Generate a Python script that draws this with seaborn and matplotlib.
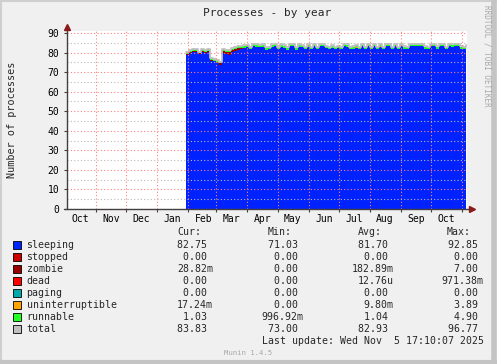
import numpy as np
import pandas as pd
import matplotlib
matplotlib.use('Agg')
import matplotlib.pyplot as plt
import matplotlib.dates as mdates
from matplotlib.lines import Line2D
from matplotlib.patches import Rectangle
import seaborn as sns

# 3-day averages, starting 2025-01-30
sleeping = [78.9, 79.5, 80.3, 80.3, 79.0, 80.3, 79.6, 80.3, 75.8, 75.5,
            74.6, 73.8, 79.8, 79.2, 78.8, 80.2, 80.8, 81.5, 82.0, 82.2,
            82.6, 81.6, 83.2, 83.0, 82.6, 83.0, 81.5, 81.8, 83.0, 83.1,
            81.7, 83.0, 82.4, 81.5, 83.1, 83.2, 81.4, 83.0, 82.6, 81.6,
            83.0, 81.8, 83.1, 81.7, 83.2, 83.1, 82.3, 81.9, 82.2, 81.8,
            82.4, 81.6, 83.2, 83.0, 81.7, 82.0, 82.5, 81.6, 83.2, 81.7,
            83.2, 81.8, 83.1, 81.6, 83.0, 81.9, 83.2, 83.1, 81.7, 83.2,
            81.8, 83.2, 81.9, 81.7, 83.2, 83.1, 83.3, 83.2, 83.1, 82.0,
            81.6, 83.2, 83.2, 81.9, 83.1, 83.2, 81.8, 83.2, 83.0, 83.1,
            83.2, 82.0, 81.6, 82.75]
zombie = [0.5, 0.7, 0.6, 0.7, 0.5, 0.6, 0.7, 0.6, 0.4, 0.3,
          0.5, 0.6, 1.0, 1.3, 1.4, 1.2, 1.0, 0.6, 0.4, 0.3,
          0.2, 0.1, 0.0, 0.0, 0.1, 0.0, 0.0, 0.0, 0.0, 0.0,
          0.0, 0.0, 0.0, 0.0, 0.0, 0.0, 0.0, 0.0, 0.0, 0.0,
          0.0, 0.0, 0.0, 0.0, 0.0, 0.0, 0.0, 0.0, 0.0, 0.0,
          0.0, 0.0, 0.0, 0.0, 0.0, 0.0, 0.0, 0.0, 0.0, 0.0,
          0.0, 0.0, 0.0, 0.0, 0.0, 0.0, 0.0, 0.0, 0.0, 0.0,
          0.0, 0.0, 0.0, 0.0, 0.0, 0.0, 0.0, 0.0, 0.0, 0.0,
          0.0, 0.0, 0.0, 0.0, 0.0, 0.0, 0.0, 0.0, 0.0, 0.0,
          0.0, 0.0, 0.0, 0.03]
uninterruptible = [0.0, 0.0, 0.0, 0.0, 0.0, 0.0, 0.0, 0.0, 0.0, 0.0,
                   0.0, 0.0, 0.0, 0.0, 0.0, 0.0, 0.0, 0.0, 0.0, 0.0,
                   0.0, 0.0, 0.0, 0.0, 0.0, 0.0, 0.0, 0.0, 0.0, 0.0,
                   0.0, 0.0, 0.0, 0.0, 0.0, 0.0, 0.0, 0.0, 0.0, 0.0,
                   0.0, 0.0, 0.0, 0.0, 0.0, 0.0, 0.0, 0.0, 0.3, 0.0,
                   0.0, 0.0, 0.0, 0.0, 0.0, 0.0, 0.2, 0.0, 0.0, 0.0,
                   0.0, 0.0, 0.0, 0.0, 0.3, 0.0, 0.0, 0.0, 0.0, 0.0,
                   0.0, 0.0, 0.0, 0.0, 0.0, 0.0, 0.0, 0.0, 0.0, 0.0,
                   0.0, 0.0, 0.0, 0.0, 0.0, 0.0, 0.0, 0.0, 0.0, 0.0,
                   0.0, 0.0, 0.0, 0.02]
runnable = [0.8, 0.9, 0.9, 0.8, 0.9, 0.9, 0.8, 0.9, 1.0, 1.0,
            1.0, 0.9, 0.9, 0.8, 0.8, 0.9, 1.0, 1.0, 1.0, 1.0,
            1.0, 1.1, 1.0, 1.0, 1.1, 1.0, 1.0, 1.1, 1.0, 1.0,
            1.0, 1.0, 1.1, 1.0, 1.0, 1.0, 1.1, 1.0, 1.0, 1.0,
            1.0, 1.1, 1.0, 1.0, 1.0, 1.0, 1.1, 1.0, 1.0, 1.0,
            1.0, 1.0, 1.1, 1.0, 1.0, 1.0, 1.0, 1.1, 1.0, 1.0,
            1.0, 1.0, 1.0, 1.1, 1.0, 1.0, 1.0, 1.0, 1.1, 1.0,
            1.0, 1.0, 1.1, 1.0, 1.0, 1.0, 1.0, 1.0, 1.1, 1.0,
            1.0, 1.0, 1.0, 1.1, 1.0, 1.0, 1.0, 1.0, 1.0, 1.1,
            1.0, 1.0, 1.0, 1.03]
total = [80.3, 81.2, 81.9, 81.9, 80.5, 81.9, 81.2, 81.9, 77.3, 76.9,
         76.2, 75.4, 81.8, 81.4, 81.1, 82.4, 82.9, 83.2, 83.5, 83.6,
         83.9, 82.9, 84.3, 84.1, 83.9, 84.1, 82.6, 83.0, 84.1, 84.2,
         82.8, 84.1, 83.6, 82.6, 84.2, 84.3, 82.6, 84.1, 83.7, 82.7,
         84.1, 83.0, 84.2, 82.8, 84.3, 84.2, 83.5, 83.0, 83.6, 82.9,
         83.5, 82.7, 84.4, 84.1, 82.8, 83.1, 83.8, 82.8, 84.3, 82.8,
         84.3, 82.9, 84.2, 82.8, 84.4, 83.0, 84.3, 84.2, 82.9, 84.3,
         82.9, 84.3, 83.1, 82.8, 84.3, 84.2, 84.4, 84.3, 84.3, 83.1,
         82.7, 84.3, 84.3, 83.1, 84.2, 84.3, 82.9, 84.3, 84.1, 84.3,
         84.3, 83.1, 82.7, 83.83]

legend_names = ['sleeping', 'stopped', 'zombie', 'dead', 'paging',
                'uninterruptible', 'runnable', 'total']
legend_colors = ['#0022FF', '#CC0000', '#990000', '#FF0000', '#00AAAA',
                 '#FFA500', '#22FF22', '#C0C0C0']
cur_vals = ['82.75 ', '0.00 ', '28.82m', '0.00 ', '0.00 ', '17.24m', '1.03 ', '83.83 ']
min_vals = ['71.03 ', '0.00 ', '0.00 ', '0.00 ', '0.00 ', '0.00 ', '996.92m', '73.00 ']
avg_vals = ['81.70 ', '0.00 ', '182.89m', '12.76u', '0.00 ', '9.80m', '1.04 ', '82.93 ']
max_vals = ['92.85 ', '0.00 ', '7.00 ', '971.38m', '0.00 ', '3.89 ', '4.90 ', '96.77 ']

days = pd.date_range('2025-01-30', periods=len(sleeping), freq='3D')
df = pd.DataFrame({'day': days, 'sleeping': sleeping, 'zombie': zombie,
                   'uninterruptible': uninterruptible, 'runnable': runnable,
                   'total': total})

sns.set_theme(style='white')
plt.rcParams['font.family'] = ['DejaVu Sans Mono']

W, H = 497, 364
fig = plt.figure(figsize=(W / 100, H / 100), dpi=100, facecolor='#F0F0F0')
ax = fig.add_axes([67 / W, 1 - 209 / H, 400 / W, 178 / H])
ax.set_facecolor('white')

x = mdates.date2num(df['day'])
base = np.zeros(len(df))
for name, col in [('sleeping', '#0022FF'), ('zombie', '#990000'),
                  ('uninterruptible', '#FFA500'), ('runnable', '#22FF22')]:
    top = base + df[name].values
    ax.fill_between(x, base, top, step='post', color=col, lw=0, zorder=1)
    base = top
sns.lineplot(x=x, y=df['total'].values, drawstyle='steps-post', color='#C0C0C0',
             lw=1.3, estimator=None, ax=ax, zorder=2)

ax.set_xlim(mdates.date2num(pd.Timestamp('2024-10-03 05:00')),
            mdates.date2num(pd.Timestamp('2025-11-05 17:00')))
ax.set_ylim(0, 91)

# grid: red at month starts and every 10, grey every 5
ax.xaxis.set_major_locator(mdates.MonthLocator(bymonthday=1))
ax.xaxis.set_major_formatter(plt.NullFormatter())
ax.xaxis.set_minor_locator(mdates.MonthLocator(bymonthday=16))
ax.xaxis.set_minor_formatter(mdates.DateFormatter('%b'))
ax.yaxis.set_major_locator(plt.MultipleLocator(10))
ax.yaxis.set_minor_locator(plt.MultipleLocator(5))
ax.set_axisbelow(False)
ax.grid(which='major', axis='both', color='#FF8080', ls=(0, (1, 2)), lw=0.8)
ax.grid(which='minor', axis='y', color='#BBBBBB', ls=(0, (1, 2)), lw=0.8)

for s in ax.spines.values():
    s.set_visible(False)
ax.tick_params(axis='x', which='major', length=2, width=0.8, color='#404040', bottom=True)
ax.tick_params(axis='x', which='minor', length=0, pad=3.5, labelsize=7, labelcolor='black')
ax.tick_params(axis='y', which='major', length=2, width=0.8, color='#404040', left=True,
               pad=3.5, labelsize=7, labelcolor='black')
ax.tick_params(axis='y', which='minor', length=0)
ax.set_xlabel('')
ax.set_ylabel('')

# axis lines with arrows
ax.plot([0, 0], [0, 1.02], color='#404040', lw=1, transform=ax.transAxes, clip_on=False, zorder=5)
ax.plot([-0.008, 1.012], [0, 0], color='#404040', lw=1, transform=ax.transAxes, clip_on=False, zorder=5)
ax.plot([0], [1.022], marker='^', ms=4.5, color='#8B1A1A', mec='#8B1A1A',
        transform=ax.transAxes, clip_on=False, zorder=6)
ax.plot([1.013], [0], marker='>', ms=4.5, color='#8B1A1A', mec='#8B1A1A',
        transform=ax.transAxes, clip_on=False, zorder=6)


def px(xp, yp):
    return xp / W, 1 - yp / H


fig.text(*px(267, 13), 'Processes - by year', ha='center', va='center', fontsize=8)
fig.text(*px(12, 120), 'Number of processes', ha='center', va='center',
         rotation=90, fontsize=7.3)
fig.text(*px(487, 56), 'RRDTOOL / TOBI OETIKER', ha='center', va='center',
         rotation=270, fontsize=5.5, color='#A8A8A8')

# legend table
for head, hx in [('Cur:', 177), ('Min:', 268), ('Avg:', 358), ('Max:', 447)]:
    fig.text(*px(hx, 232), head, ha='left', va='center', fontsize=7.1)
for k, name in enumerate(legend_names):
    yy = 245 + 12 * k
    fig.add_artist(Rectangle(px(13, yy + 4), 8 / W, 8 / H, transform=fig.transFigure,
                             fc=legend_colors[k], ec='black', lw=0.6))
    fig.text(*px(26.5, yy), name, ha='left', va='center', fontsize=7.1)
    for vals, xr in [(cur_vals, 213), (min_vals, 303.5), (avg_vals, 393.5), (max_vals, 483.5)]:
        fig.text(*px(xr, yy), vals[k], ha='right', va='center', fontsize=7.1)
fig.text(*px(483.5, 341), 'Last update: Wed Nov  5 17:10:07 2025', ha='right',
         va='center', fontsize=7.1)
fig.text(*px(248, 353), 'Munin 1.4.5', ha='center', va='center', fontsize=5.2, color='#A8A8A8')

# frame shading
fig.add_artist(Line2D([0, 1], [1 - 1 / H, 1 - 1 / H], color='#CFCFCF', lw=1.5))
fig.add_artist(Line2D([1 / W, 1 / W], [0, 1], color='#CFCFCF', lw=1.5))
fig.add_artist(Line2D([0, 1], [2 / H, 2 / H], color='#C4C4C4', lw=3))
fig.add_artist(Line2D([1 - 3 / W, 1 - 3 / W], [0, 1], color='#C4C4C4', lw=4))

fig.savefig('out.png', dpi=100, facecolor=fig.get_facecolor())
